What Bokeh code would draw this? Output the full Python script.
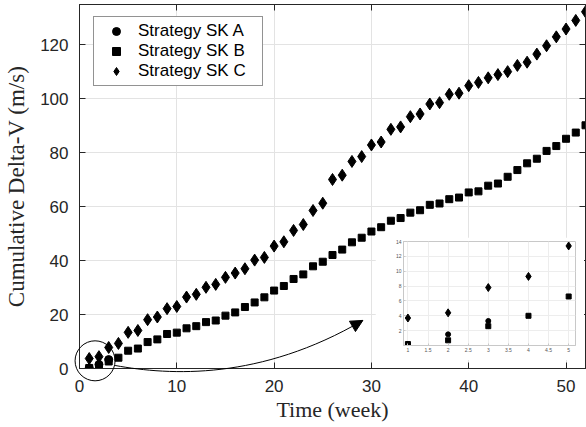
import numpy as np
from bokeh.plotting import figure
from bokeh.layouts import column
from bokeh.models import (FixedTicker, LinearAxis, Legend, LegendItem, Arrow,
                          NormalHead, CustomJSTickFormatter)
from bokeh.embed import file_html
from bokeh.resources import INLINE

# ---------------- data ----------------
weeks_a = [1, 2, 3]
sk_a = [0.2, 1.5, 3.3]

weeks = list(range(1, 53))
sk_b = [0.2, 0.7, 2.6, 4.0, 6.6, 7.4, 9.8, 10.8, 12.8, 13.3,
        14.9, 15.7, 17.2, 17.8, 19.6, 20.8, 22.8, 24.5, 26.4, 28.9,
        30.6, 33.2, 34.9, 37.9, 39.6, 42.1, 44.1, 46.8, 48.5, 50.8,
        52.4, 54.8, 55.8, 57.8, 58.7, 60.7, 61.2, 62.8, 63.4, 65.3,
        65.7, 67.8, 68.6, 71.1, 73.6, 76.1, 77.8, 80.7, 82.5, 85.2,
        87.5, 90.2]
sk_c = [3.7, 4.4, 7.8, 9.3, 13.4, 14.1, 18.1, 19.1, 22.2, 23.0,
        26.5, 27.5, 30.1, 31.2, 33.8, 35.4, 37.0, 40.2, 41.2, 45.4,
        47.0, 51.2, 53.4, 58.6, 61.3, 70.1, 71.7, 76.8, 78.6, 82.9,
        84.0, 88.7, 89.6, 93.4, 94.4, 98.1, 98.6, 101.7, 102.1, 104.9,
        106.1, 107.8, 109.0, 110.1, 112.4, 113.6, 116.6, 119.7, 123.0, 125.9,
        129.1, 132.3]

x_ticks = [0, 10, 20, 30, 40, 50]
y_ticks = [0, 20, 40, 60, 80, 100, 120]
inset_weeks = 5
inset_x_ticks = [1, 1.5, 2, 2.5, 3, 3.5, 4, 4.5, 5]
inset_y_ticks = [2, 4, 6, 8, 10, 12, 14]

labels = ["Strategy SK A", "Strategy SK B", "Strategy SK C"]

# annotation geometry (data units of main axes)
zoom_center = (1.6, 2.85)
curve_p0 = (3.66, 1.12)
curve_c1 = (9.31, -2.60)
curve_c2 = (18.56, -4.46)
curve_p3 = (29.12, 17.84)
arrow_tail = (28.23, 15.99)

DARK = "#262626"
GRID = "#e3e3e3"
SANS = "Liberation Sans"
SERIF = "Liberation Serif"

# ---------------- layout constants (pixels) ----------------
W, H = 586, 427
BL, BR, BT, BB = 79, 1, 4, 59
X_RANGE = (0, 52)
Y_RANGE = (0, 135)
XS = (W - BL - BR) / (X_RANGE[1] - X_RANGE[0])
YS = (H - BT - BB) / (Y_RANGE[1] - Y_RANGE[0])

# ---------------- main figure ----------------
p = figure(width=W, height=H, x_range=X_RANGE, y_range=Y_RANGE,
           output_backend="svg", toolbar_location=None,
           min_border_left=BL, min_border_right=BR, min_border_top=BT,
           min_border_bottom=BB)
p.frame_align = False
p.outline_line_color = DARK
p.outline_line_width = 1
p.background_fill_color = "white"
p.border_fill_color = "white"

p.xaxis.ticker = FixedTicker(ticks=x_ticks)
p.yaxis.ticker = FixedTicker(ticks=y_ticks)
for ax in (p.xaxis[0], p.yaxis[0]):
    ax.major_tick_in = 6
    ax.major_tick_out = 0
    ax.minor_tick_line_color = None
    ax.axis_line_color = DARK
    ax.major_tick_line_color = DARK
    ax.major_label_text_font = SANS
    ax.major_label_text_font_size = "17px"
    ax.major_label_text_color = DARK
    ax.axis_label_text_font = SERIF
    ax.axis_label_text_font_size = "22px"
    ax.axis_label_text_font_style = "normal"
    ax.axis_label_text_color = DARK
p.xaxis.axis_label = "Time (week)"
p.yaxis.axis_label = "Cumulative Delta-V (m/s)"
p.yaxis.axis_label_text_font_size = "23px"
p.xaxis.major_label_standoff = 11
p.yaxis.major_label_standoff = 11
p.xaxis.axis_label_standoff = 2
p.yaxis.axis_label_standoff = 8

# top and right tick-only axes (no labels drawn)
top_ax = LinearAxis(ticker=FixedTicker(ticks=x_ticks))
right_ax = LinearAxis(ticker=FixedTicker(ticks=y_ticks))
for ax in (top_ax, right_ax):
    ax.major_tick_in = 6
    ax.major_tick_out = 0
    ax.minor_tick_line_color = None
    ax.major_tick_line_color = DARK
    ax.axis_line_color = DARK
    ax.major_label_text_font_size = "0px"
    ax.major_label_text_color = None
    ax.major_label_standoff = 0
p.add_layout(top_ax, "above")
p.add_layout(right_ax, "right")

p.grid.grid_line_color = GRID
p.grid.grid_line_width = 1

ra = p.scatter(weeks_a, sk_a, marker="circle", size=8, color="black")
rb = p.scatter(weeks, sk_b, marker="square", size=7, color="black")
rc = p.scatter(weeks, sk_c, marker="diamond", size=12, color="black")

legend = Legend(items=[LegendItem(label=labels[0], renderers=[ra]),
                       LegendItem(label=labels[1], renderers=[rb]),
                       LegendItem(label=labels[2], renderers=[rc])],
                location=(14, 282))
legend.label_text_font = SANS
legend.label_text_font_size = "17px"
legend.label_text_color = "black"
legend.padding = 4
legend.spacing = 0
legend.margin = 0
legend.glyph_width = 36
legend.glyph_height = 20
legend.label_height = 20
legend.label_width = 120
legend.label_standoff = 4
legend.border_line_color = DARK
legend.border_line_width = 1
legend.background_fill_color = "white"
legend.background_fill_alpha = 1
p.add_layout(legend)

# ---------------- transparent overlay for zoom circle + arrow (not clipped by main frame) ----------------
OL, OR_, OT, OB = 66, 380, 280, 392  # overlay box in page pixels
p3 = figure(width=OR_ - OL, height=OB - OT,
            x_range=(X_RANGE[0] + (OL - BL) / XS, X_RANGE[0] + (OR_ - BL) / XS),
            y_range=(Y_RANGE[0] + (H - BB - OB) / YS, Y_RANGE[0] + (H - BB - OT) / YS),
            output_backend="svg", toolbar_location=None,
            min_border_left=0, min_border_right=0, min_border_top=0, min_border_bottom=0)
p3.frame_align = False
p3.axis.visible = False
p3.grid.visible = False
p3.outline_line_color = None
p3.background_fill_color = None
p3.border_fill_color = None
p3.scatter([zoom_center[0]], [zoom_center[1]], marker="circle", size=40,
           fill_color=None, line_color="black", line_width=1)
p3.bezier(x0=[curve_p0[0]], y0=[curve_p0[1]], x1=[curve_p3[0]], y1=[curve_p3[1]],
          cx0=[curve_c1[0]], cy0=[curve_c1[1]], cx1=[curve_c2[0]], cy1=[curve_c2[1]],
          line_color="black", line_width=1)
p3.add_layout(Arrow(end=NormalHead(size=12, fill_color="black", line_color="black"),
                    x_start=arrow_tail[0], y_start=arrow_tail[1],
                    x_end=curve_p3[0], y_end=curve_p3[1],
                    line_color="black", line_width=1))
p3.margin = (-(H - OT), 0, 0, OL)

# ---------------- inset figure ----------------
IL, IT = 375, 237
p2 = figure(frame_width=172, frame_height=104, x_range=(0.89, 5.17), y_range=(0, 14),
            output_backend="svg", toolbar_location=None,
            min_border_left=28, min_border_right=9, min_border_top=4,
            min_border_bottom=15)
p2.frame_align = False
p2.outline_line_color = "#c8c8c8"
p2.background_fill_color = "white"
p2.border_fill_color = "white"
p2.grid.grid_line_color = "#ededed"
p2.xaxis.ticker = FixedTicker(ticks=inset_x_ticks)
p2.yaxis.ticker = FixedTicker(ticks=inset_y_ticks)
p2.xaxis.formatter = CustomJSTickFormatter(code="return String(tick)")
for ax in (p2.xaxis[0], p2.yaxis[0]):
    ax.major_tick_in = 2
    ax.major_tick_out = 0
    ax.minor_tick_line_color = None
    ax.axis_line_color = "#c8c8c8"
    ax.major_tick_line_color = "#c8c8c8"
    ax.major_label_text_font = SANS
    ax.major_label_text_font_size = "5px"
    ax.major_label_text_color = "#555555"
    ax.major_label_standoff = 2
p2.scatter(weeks_a, sk_a, marker="circle", size=5, color="black")
p2.scatter(weeks[:inset_weeks], sk_b[:inset_weeks], marker="square", size=5, color="black")
p2.scatter(weeks[:inset_weeks], sk_c[:inset_weeks], marker="diamond", size=8, color="black")
p2.margin = (-(OB - IT), 0, 0, IL)

layout = column(p, p3, p2, spacing=0)
open("out.html", "w").write(file_html(layout, INLINE))
